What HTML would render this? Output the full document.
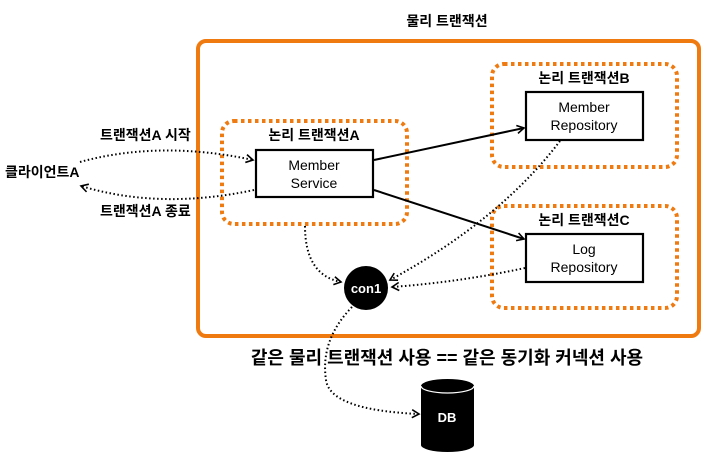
<!DOCTYPE html>
<html><head><meta charset="utf-8"><style>
html,body{margin:0;padding:0;background:#fff;width:713px;height:454px;overflow:hidden}
svg{display:block}
text{font-family:"Liberation Sans","Noto Sans CJK KR",sans-serif;font-weight:bold;fill:#000}
text.n{font-weight:normal}
</style></head><body>
<svg width="713" height="454" viewBox="0 0 713 454" xmlns="http://www.w3.org/2000/svg">
<defs>
<marker id="a" markerWidth="10" markerHeight="10" refX="8" refY="5" orient="auto" markerUnits="userSpaceOnUse">
<path d="M1,1 L8,5 L1,9" fill="none" stroke="#000" stroke-width="1.6"/>
</marker>
</defs>
<text x="447" y="26" font-size="14" text-anchor="middle">물리 트랜잭션</text>
<rect x="198" y="41" width="501" height="295" rx="8" fill="none" stroke="#ef7a10" stroke-width="4"/>

<rect x="222" y="121" width="185" height="103" rx="12" fill="none" stroke="#ef7a10" stroke-width="4" stroke-dasharray="3.5 3.5"/>
<rect x="492" y="64" width="185" height="103" rx="12" fill="none" stroke="#ef7a10" stroke-width="4" stroke-dasharray="3.5 3.5"/>
<rect x="492" y="206" width="185" height="102" rx="12" fill="none" stroke="#ef7a10" stroke-width="4" stroke-dasharray="3.5 3.5"/>

<text x="314" y="140" font-size="14" text-anchor="middle">논리 트랜잭션A</text>
<text x="584" y="83" font-size="14" text-anchor="middle">논리 트랜잭션B</text>
<text x="584" y="225" font-size="14" text-anchor="middle">논리 트랜잭션C</text>

<rect x="256" y="150" width="117" height="47" fill="#fff" stroke="#000" stroke-width="2.2"/>
<text class="n" x="314" y="170" font-size="14" text-anchor="middle">Member</text>
<text class="n" x="314" y="188" font-size="14" text-anchor="middle">Service</text>

<rect x="526" y="92" width="117" height="48" fill="#fff" stroke="#000" stroke-width="2.2"/>
<text class="n" x="584" y="112" font-size="14" text-anchor="middle">Member</text>
<text class="n" x="584" y="130" font-size="14" text-anchor="middle">Repository</text>

<rect x="526" y="234" width="117" height="48" fill="#fff" stroke="#000" stroke-width="2.2"/>
<text class="n" x="584" y="254" font-size="14" text-anchor="middle">Log</text>
<text class="n" x="584" y="272" font-size="14" text-anchor="middle">Repository</text>

<text x="5" y="177" font-size="14">클라이언트A</text>
<text x="100" y="140" font-size="14">트랜잭션A 시작</text>
<text x="100" y="216" font-size="14">트랜잭션A 종료</text>

<g fill="none" stroke="#000" stroke-width="2" stroke-dasharray="1.5 2.5">
<path d="M80,162 Q160,140 253,160" marker-end="url(#a)"/>
<path d="M254,190 Q160,210 81,186" marker-end="url(#a)"/>
<path d="M305,226 Q305,275 341,282" marker-end="url(#a)"/>
<path d="M560,141 Q500,220 390,280" marker-end="url(#a)"/>
<path d="M525,268 Q460,282 392,287" marker-end="url(#a)"/>
<path d="M352,307 Q320,340 326,380 Q330,410 419,414" marker-end="url(#a)"/>
</g>
<g fill="none" stroke="#000" stroke-width="2">
<path d="M374,160 L524,128" marker-end="url(#a)"/>
<path d="M374,190 L524,239" marker-end="url(#a)"/>
</g>

<circle cx="366" cy="288" r="22" fill="#000"/>
<text x="366" y="293" font-size="13" text-anchor="middle" style="fill:#fff">con1</text>

<path d="M421,386 L421,445 A26.5,7 0 0 0 474,445 L474,386 A26.5,7 0 0 0 421,386 Z" fill="#000"/>
<path d="M421,386 A26.5,7 0 0 0 474,386" fill="none" stroke="#fff" stroke-width="1.2"/>
<text x="447" y="422" font-size="13" text-anchor="middle" style="fill:#fff">DB</text>

<text x="447" y="364" font-size="18" text-anchor="middle">같은 물리 트랜잭션 사용 == 같은 동기화 커넥션 사용</text>
</svg>
</body></html>
